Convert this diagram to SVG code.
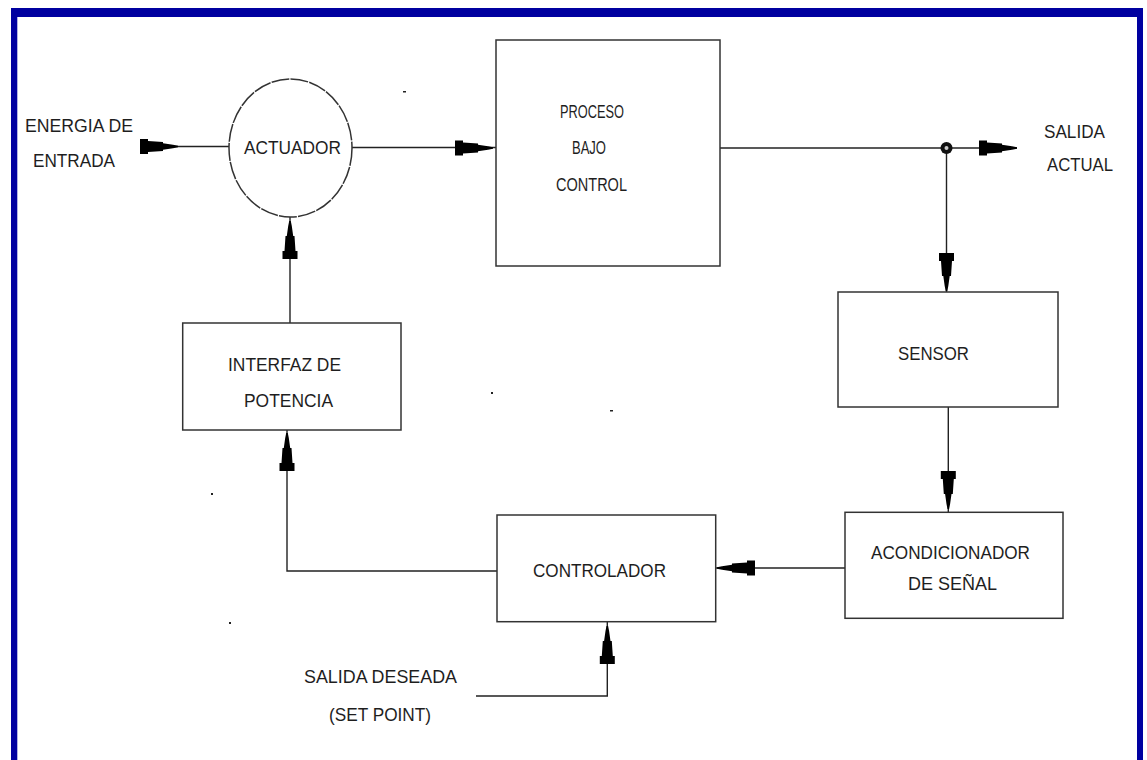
<svg xmlns="http://www.w3.org/2000/svg" xmlns:xlink="http://www.w3.org/1999/xlink" width="1147" height="760" viewBox="0 0 1147 760">
<style>
.frame{fill:#0000a0}
.box{fill:#fff;stroke:#333;stroke-width:1.5}
.wire{fill:none;stroke:#222;stroke-width:1.4}
.lbl{font-family:"Liberation Sans",Arial,sans-serif;font-size:19px;fill:#1e1e1e}
.sm{font-size:18px}
.ah{fill:#000}
.speck{fill:#222}
</style>
<defs>
<path id="arr" class="ah" d="M-38,-7.5 H-30 V-5.5 L-15,-4.5 V-3.2 L-5,-1.8 L0,-0.8 V0.8 L-5,1.8 L-15,3.2 V4.5 L-30,5.5 V7.5 H-38 Z"/>
</defs>
<rect x="0" y="0" width="1147" height="760" fill="#fff"/>
<g id="frame">
<rect class="frame" x="11" y="8" width="1132" height="9"/>
<rect class="frame" x="11" y="8" width="6.3" height="752"/>
<rect class="frame" x="1137" y="8" width="6" height="752"/>
</g>
<g id="connectors">
<path class="wire" d="M141,146.5 H229"/>
<path class="wire" d="M352,147.5 H496"/>
<path class="wire" d="M720,148 H1017"/>
<path class="wire" d="M946.5,148 V292"/>
<path class="wire" d="M948.3,407 V512"/>
<path class="wire" d="M845,568 H716"/>
<path class="wire" d="M497,571 H287 V430"/>
<path class="wire" d="M290,323 V217"/>
<path class="wire" d="M476,696 H607.3 V622"/>
<use xlink:href="#arr" transform="translate(178,146.5)"/>
<use xlink:href="#arr" transform="translate(493,148)"/>
<use xlink:href="#arr" transform="translate(1017,148)"/>
<use xlink:href="#arr" transform="translate(946.5,291) rotate(90)"/>
<use xlink:href="#arr" transform="translate(948.3,509) rotate(90)"/>
<use xlink:href="#arr" transform="translate(717,568) rotate(180)"/>
<use xlink:href="#arr" transform="translate(287,433) rotate(-90)"/>
<use xlink:href="#arr" transform="translate(290,221) rotate(-90)"/>
<use xlink:href="#arr" transform="translate(607.3,626) rotate(-90)"/>
<circle cx="946.5" cy="148" r="6" fill="#111"/>
<circle cx="946.5" cy="148" r="2" fill="#ccc"/>
</g>
<g id="actuador">
<ellipse class="box" cx="290.5" cy="148" rx="61.5" ry="69" stroke-width="1.3" stroke-dasharray="18 1.2"/>
<text class="lbl" x="244" y="154" textLength="97" lengthAdjust="spacingAndGlyphs">ACTUADOR</text>
</g>
<g id="proceso">
<rect class="box" x="496" y="40" width="224" height="226"/>
<text class="lbl sm" x="560" y="118" textLength="64" lengthAdjust="spacingAndGlyphs">PROCESO</text>
<text class="lbl sm" x="572" y="154" textLength="34" lengthAdjust="spacingAndGlyphs">BAJO</text>
<text class="lbl sm" x="556" y="191" textLength="71" lengthAdjust="spacingAndGlyphs">CONTROL</text>
</g>
<g id="sensor">
<rect class="box" x="838" y="292" width="220" height="115"/>
<text class="lbl" x="898" y="360" textLength="71" lengthAdjust="spacingAndGlyphs">SENSOR</text>
</g>
<g id="acondicionador">
<rect class="box" x="845" y="512.3" width="218" height="106"/>
<text class="lbl" x="871" y="559" textLength="159" lengthAdjust="spacingAndGlyphs">ACONDICIONADOR</text>
<text class="lbl" x="908" y="590" textLength="89" lengthAdjust="spacingAndGlyphs">DE SEÑAL</text>
</g>
<g id="controlador">
<rect class="box" x="497" y="515" width="218.7" height="106.7"/>
<text class="lbl" x="533" y="576.5" textLength="133" lengthAdjust="spacingAndGlyphs">CONTROLADOR</text>
</g>
<g id="interfaz">
<rect class="box" x="182.7" y="323" width="218.3" height="107"/>
<text class="lbl" x="228" y="370.5" textLength="113" lengthAdjust="spacingAndGlyphs">INTERFAZ DE</text>
<text class="lbl" x="244" y="406.5" textLength="89" lengthAdjust="spacingAndGlyphs">POTENCIA</text>
</g>
<g id="energia">
<text class="lbl" x="25" y="132" textLength="108" lengthAdjust="spacingAndGlyphs">ENERGIA DE</text>
<text class="lbl" x="33" y="167" textLength="82" lengthAdjust="spacingAndGlyphs">ENTRADA</text>
</g>
<g id="salida-actual">
<text class="lbl" x="1044" y="138" textLength="61" lengthAdjust="spacingAndGlyphs">SALIDA</text>
<text class="lbl" x="1047" y="170.5" textLength="66" lengthAdjust="spacingAndGlyphs">ACTUAL</text>
</g>
<g id="setpoint">
<text class="lbl" x="304" y="683" textLength="153" lengthAdjust="spacingAndGlyphs">SALIDA DESEADA</text>
<text class="lbl" x="329" y="721" textLength="102" lengthAdjust="spacingAndGlyphs">(SET POINT)</text>
</g>
<g id="specks">
<rect class="speck" x="403" y="91" width="3" height="1.5"/>
<rect class="speck" x="491" y="392" width="2" height="2"/>
<rect class="speck" x="610" y="410" width="3" height="1.5"/>
<rect class="speck" x="211" y="493" width="2" height="2"/>
<rect class="speck" x="229" y="622" width="2" height="2"/>
</g>
</svg>
